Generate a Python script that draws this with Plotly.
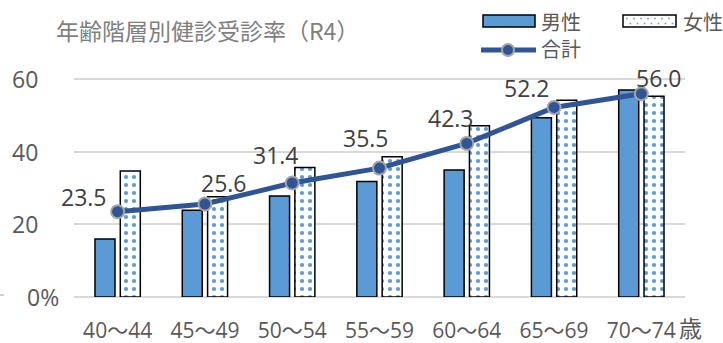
import plotly.graph_objects as go

categories = ["40～44", "45～49", "50～54", "55～59", "60～64", "65～69", "70～74"]
male = [16.0, 23.9, 27.8, 31.8, 35.0, 49.4, 57.0]
female = [34.7, 27.6, 35.7, 38.6, 47.2, 54.2, 55.3]
total = [23.5, 25.6, 31.4, 35.5, 42.3, 52.2, 56.0]
y_ticks = [0, 20, 40, 60]
y_tick_text = ["0%", "20", "40", "60"]

# label offsets in pixels (dx right, dy up)
label_dx = [-34, 19, -16, -14, -16, -27, 18]
label_dy = [15, 21, 28, 30, 25, 19, 16]

W, H = 723, 343
L, R, T, B = 74, 38, 61, 46
PW, PH = W - L - R, H - T - B

FONT = "Open Sans, Noto Sans CJK JP, sans-serif"
GRAY = "#595959"
BLUE = "#5B9BD5"
DARK = "#2F5597"


def px(X):
    return (X - L) / PW


def py(Y):
    return (H - B - Y) / PH


fig = go.Figure()
fig.add_trace(go.Bar(x=categories, y=male, name="男性",
                     marker=dict(color=BLUE, line=dict(color="black", width=1.5)),
                     showlegend=False))
fig.add_trace(go.Bar(x=categories, y=female, name="女性",
                     marker=dict(color="white", line=dict(color="black", width=1.5),
                                 pattern=dict(shape=".", fgcolor=BLUE, bgcolor="white",
                                              size=8, solidity=0.22, fillmode="replace")),
                     showlegend=False))
fig.add_trace(go.Scatter(x=categories, y=total, name="合計", mode="lines+markers",
                         line=dict(color=DARK, width=5),
                         marker=dict(size=13, color=DARK, line=dict(color="#A5A5A5", width=2)),
                         cliponaxis=False, showlegend=False))

annotations = []
for c, v, dx, dy in zip(categories, total, label_dx, label_dy):
    annotations.append(dict(x=c, y=v, text=f"{v:.1f}", showarrow=False,
                            xshift=dx, yshift=dy,
                            font=dict(family=FONT, size=23, color="#404040")))

# y-axis labels
for v, t in zip(y_ticks, y_tick_text):
    annotations.append(dict(x=0, xref="paper", y=v, yref="y", text=t, showarrow=False,
                            xanchor="right", yanchor="middle",
                            xshift=(-13 if t.endswith("%") else -34),
                            font=dict(family=FONT, size=23, color=GRAY)))

# title
annotations.append(dict(x=px(54), xref="paper", y=py(30), yref="paper",
                        text="年齢階層別健診受診率（R4）", showarrow=False,
                        xanchor="left", yanchor="middle",
                        font=dict(family="Noto Sans CJK JP", size=23, color="#7F7F7F")))
# unit
annotations.append(dict(x=px(677), xref="paper", y=py(327), yref="paper",
                        text="歳", showarrow=False, xanchor="left", yanchor="middle",
                        font=dict(family="Noto Sans CJK JP", size=23, color=GRAY)))
# legend texts
for X, Y, t in [(539, 21, "男性"), (681, 21, "女性"), (539, 49, "合計")]:
    annotations.append(dict(x=px(X), xref="paper", y=py(Y), yref="paper",
                            text=t, showarrow=False, xanchor="left", yanchor="middle",
                            font=dict(family="Noto Sans CJK JP", size=20, color=GRAY)))

shapes = []
shapes.append(dict(type="rect", xref="paper", yref="paper",
                   x0=px(483), x1=px(535), y0=py(15), y1=py(27),
                   fillcolor=BLUE, line=dict(color="black", width=1.5)))
shapes.append(dict(type="rect", xref="paper", yref="paper",
                   x0=px(623), x1=px(676), y0=py(15), y1=py(27),
                   fillcolor="white", line=dict(color="black", width=1.5)))
for row, Y in enumerate([18.5, 23.5]):
    start = 627 + (3.5 if row else 0)
    X = start
    while X < 674:
        shapes.append(dict(type="rect", xref="paper", yref="paper",
                           x0=px(X - 0.8), x1=px(X + 0.8), y0=py(Y - 0.8), y1=py(Y + 0.8),
                           fillcolor=BLUE, line=dict(width=0)))
        X += 7
shapes.append(dict(type="line", xref="paper", yref="paper",
                   x0=px(481), x1=px(536), y0=py(50), y1=py(50),
                   line=dict(color=DARK, width=5)))
shapes.append(dict(type="circle", xref="paper", yref="paper",
                   x0=px(502), x1=px(514), y0=py(44), y1=py(56),
                   fillcolor=DARK, line=dict(color="#A5A5A5", width=2)))
shapes.append(dict(type="line", xref="paper", yref="paper",
                   x0=px(0), x1=px(4), y0=py(295), y1=py(295),
                   line=dict(color="#BFBFBF", width=1.5)))

fig.update_layout(
    width=W, height=H,
    margin=dict(l=L, r=R, t=T, b=B),
    paper_bgcolor="white", plot_bgcolor="white",
    barmode="group", bargap=0.42, bargroupgap=0.21,
    xaxis=dict(showgrid=False, showline=False, ticks="", ticklabelstandoff=19,
               automargin=False, range=[-0.5, len(categories) - 0.5], autorange=False,
               tickfont=dict(family=FONT, size=21, color=GRAY), fixedrange=True),
    yaxis=dict(range=[0, 65], tickvals=y_ticks, showticklabels=False, automargin=False,
               showgrid=True, gridcolor="#D9D9D9", gridwidth=1.5,
               zeroline=True, zerolinecolor="#D9D9D9", zerolinewidth=1.5,
               showline=False, fixedrange=True),
    annotations=annotations, shapes=shapes,
    showlegend=False,
)

fig.write_html("out.html")
